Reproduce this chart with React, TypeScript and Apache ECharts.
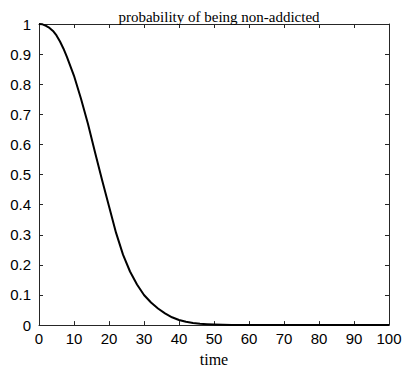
import React, { useEffect, useRef } from "react";
import * as echarts from "echarts";

const times = [0, 1, 2, 3, 4, 5, 6, 7, 8, 10, 12, 14, 16, 18, 20, 22, 24, 26, 28, 30, 32, 34, 36, 38, 40, 42, 44, 46, 48, 50, 55, 60, 70, 80, 90, 100];
const probNonAddicted = [1.0, 0.999, 0.994, 0.987, 0.977, 0.962, 0.942, 0.918, 0.89, 0.828, 0.752, 0.668, 0.574, 0.483, 0.395, 0.307, 0.234, 0.178, 0.135, 0.1, 0.075, 0.055, 0.039, 0.026, 0.017, 0.011, 0.007, 0.0045, 0.003, 0.002, 0.0007, 0.0002, 0.0, 0.0, 0.0, 0.0];

const titleText = "probability of being non-addicted";
const xLabel = "time";

export default function App() {
  const ref = useRef<HTMLDivElement>(null);
  useEffect(() => {
    if (!ref.current) return;
    const chart = echarts.init(ref.current, undefined, { renderer: "svg" });
    const axisColor = "#262626";
    const labelFont = { fontFamily: "Liberation Sans", fontSize: 15, color: "#000" };
    const line = { show: true, onZero: false, lineStyle: { color: axisColor, width: 1 } };
    const tick = { show: true, inside: true, length: 4, lineStyle: { color: axisColor } };
    chart.setOption({
      animation: false,
      backgroundColor: "#fff",
      title: {
        text: titleText,
        left: 214,
        textAlign: "center",
        top: 4,
        textStyle: { fontFamily: "Liberation Serif", fontSize: 15, fontWeight: "normal", color: "#000" },
      },
      grid: { left: 39, right: 19, top: 24, bottom: 36, containLabel: false },
      xAxis: [
        {
          type: "value",
          min: 0,
          max: 100,
          interval: 10,
          position: "bottom",
          name: xLabel,
          nameLocation: "middle",
          nameGap: 24,
          nameTextStyle: { fontFamily: "Liberation Serif", fontSize: 16, color: "#000" },
          axisLine: line,
          axisTick: tick,
          axisLabel: { ...labelFont, margin: 6 },
          splitLine: { show: false },
        },
        {
          type: "value",
          min: 0,
          max: 100,
          interval: 10,
          position: "top",
          axisLine: line,
          axisTick: tick,
          axisLabel: { show: false },
          splitLine: { show: false },
        },
      ],
      yAxis: [
        {
          type: "value",
          min: 0,
          max: 1,
          interval: 0.1,
          position: "left",
          axisLine: line,
          axisTick: tick,
          axisLabel: { ...labelFont, margin: 8 },
          splitLine: { show: false },
        },
        {
          type: "value",
          min: 0,
          max: 1,
          interval: 0.1,
          position: "right",
          axisLine: line,
          axisTick: tick,
          axisLabel: { show: false },
          splitLine: { show: false },
        },
      ],
      series: [
        {
          type: "line",
          xAxisIndex: 0,
          yAxisIndex: 0,
          data: times.map((t, i) => [t, probNonAddicted[i]]),
          showSymbol: false,
          smooth: false,
          lineStyle: { color: "#000", width: 2, join: "round" },
        },
      ],
    });
    return () => chart.dispose();
  }, []);
  return <div ref={ref} style={{ width: 408, height: 372, position: "absolute", left: 0, top: 0 }} />;
}
